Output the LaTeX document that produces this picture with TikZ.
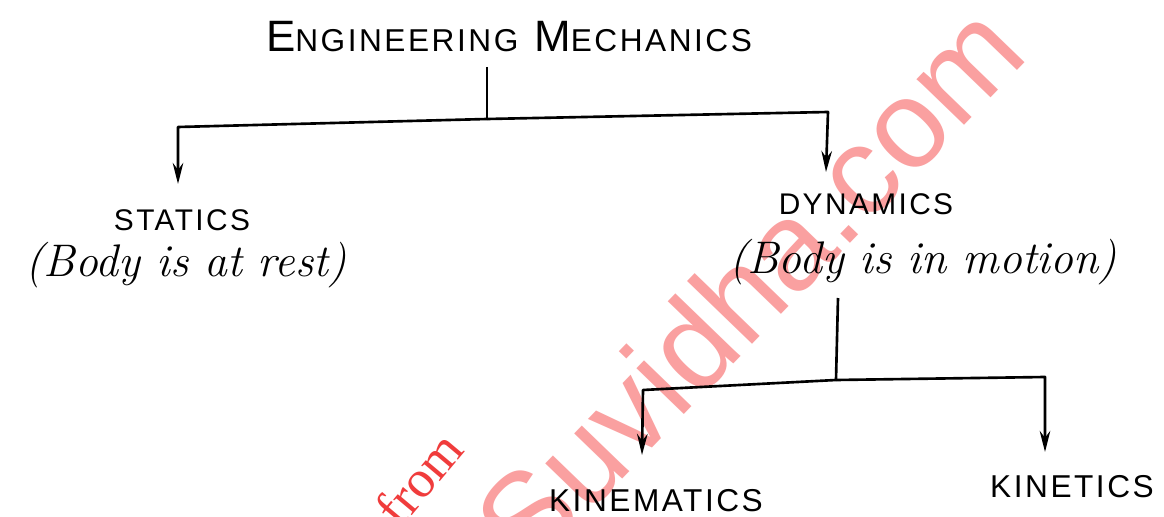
\documentclass[tikz,border=0pt]{standalone}
\usepackage{fontspec}
\setmainfont{Latin Modern Roman}
\newfontfamily\capsfont[LetterSpace=8]{Liberation Sans}
\newfontfamily\wmfont{Liberation Sans}
\newfontfamily\wmserif{Liberation Serif}
\usetikzlibrary{arrows.meta}
\definecolor{wmpink}{RGB}{250,160,160}
\definecolor{wmred}{RGB}{240,60,60}
\tikzset{
  capslabel/.style={inner sep=0pt, font=\capsfont},
  cursive/.style={inner sep=0pt, font=\itshape\fontsize{26pt}{30pt}\selectfont},
  link/.style={line width=1.5pt, line join=round},
  arrowlink/.style={link, -{Stealth[length=12pt,width=6pt]}}
}
\begin{document}
\begin{tikzpicture}[x=0.02cm,y=-0.02cm]
\useasboundingbox (0,0) rectangle (1164,517);
\fill[white] (0,0) rectangle (1164,517);
% watermark
\begin{scope}
\clip (0,0) rectangle (1164,517);
\node[inner sep=0pt, rotate=46, text=wmpink, font=\wmfont\fontsize{71pt}{80pt}\selectfont] (wm) at (748,285) {Suvidha.com};
\node[inner sep=0pt, rotate=50, text=wmred, font=\wmserif\fontsize{30pt}{32pt}\selectfont] (wm2) at (406,494) {d from};
\end{scope}
% labels
\node[capslabel] (em) at (509,37) {\fontsize{25pt}{28pt}\selectfont E\fontsize{18pt}{20pt}\selectfont NGINEERING\hspace{0.5em}\fontsize{25pt}{28pt}\selectfont M\fontsize{18pt}{20pt}\selectfont ECHANICS};
\node[capslabel, font=\capsfont\fontsize{17pt}{19pt}\selectfont] (st) at (182,220) {STATICS};
\node[cursive] (str) at (186,265) {(Body is at rest)};
\node[capslabel, font=\capsfont\fontsize{17pt}{19pt}\selectfont] (dy) at (866,204) {DYNAMICS};
\node[cursive] (dyr) at (923,262) {(Body is in motion)};
\node[capslabel, font=\capsfont\fontsize{18pt}{21pt}\selectfont] (ki) at (656,501) {KINEMATICS};
\node[capslabel, font=\capsfont\fontsize{18pt}{20pt}\selectfont] (kt) at (1072,487) {KINETICS};
% connector points
\coordinate (t1) at (487,67);
\coordinate (j1) at (487,119);
\coordinate (lc) at (178,127);
\coordinate (rc) at (828,112);
\coordinate (a1) at (178,184);
\coordinate (a2) at (826,172);
\coordinate (t2) at (838,298);
\coordinate (j2) at (836,380);
\coordinate (lc2) at (643,390);
\coordinate (rc2) at (1045,377);
\coordinate (a3) at (642,455);
\coordinate (a4) at (1045,452);
% connectors
\draw[link] (t1) -- (j1);
\draw[arrowlink] (j1) -- (lc) -- (a1);
\draw[arrowlink] (j1) -- (rc) -- (a2);
\draw[link] (t2) -- (j2);
\draw[arrowlink] (j2) -- (lc2) -- (a3);
\draw[arrowlink] (j2) -- (rc2) -- (a4);
\end{tikzpicture}
\end{document}
